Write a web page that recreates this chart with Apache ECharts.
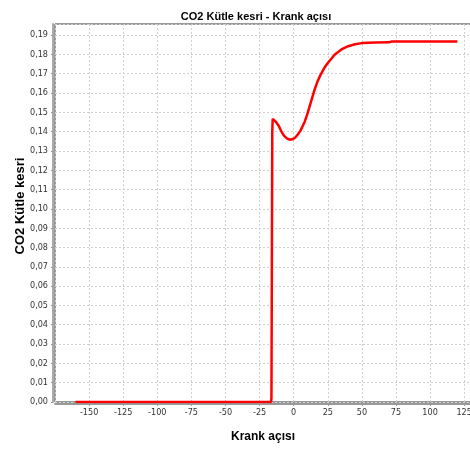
<!DOCTYPE html>
<html>
<head>
<meta charset="utf-8">
<script src="https://cdn.jsdelivr.net/npm/echarts@6/dist/echarts.min.js"></script>
<style>
  html, body { margin: 0; padding: 0; background: #fff; }
  #chart { width: 470px; height: 454px; }
</style>
</head>
<body>
<div id="chart"></div>
<script>
// Krank açısı (derece)
var krankAcisi = [-160, -16.6, -16.3, -16.0, -15.7, -15.4, -13, -11, -9, -7, -5, -3, -1, 1, 3, 5, 8, 10, 12.5, 15, 17.5, 20, 22.5, 25, 30, 35, 40, 45, 50, 55, 60, 70, 72, 80, 120];
// CO2 kütle kesri
var co2Kesri = [0, 0, 0.002, 0.07, 0.14, 0.1466, 0.1450, 0.1430, 0.1400, 0.1378, 0.1365, 0.1358, 0.1360, 0.1368, 0.1385, 0.1405, 0.1450, 0.1490, 0.1550, 0.1610, 0.1660, 0.1698, 0.1730, 0.1755, 0.1798, 0.1825, 0.1842, 0.1852, 0.1858, 0.1860, 0.1861, 0.1862, 0.1867, 0.1867, 0.1867];

var seriesData = [];
for (var i = 0; i < krankAcisi.length; i++) {
	seriesData.push([krankAcisi[i], co2Kesri[i]]);
}

var narrow = '"DejaVu Sans Condensed", sans-serif';
var bold = '"Liberation Sans", Arial, sans-serif';
var chart = echarts.init(document.getElementById('chart'));
chart.setOption({
	animation: false,
	backgroundColor: '#fff',
	title: {
		text: 'CO2 Kütle kesri - Krank açısı',
		left: 251,
		top: 6,
		textAlign: 'center',
		textStyle: { fontFamily: bold, fontSize: 11, fontWeight: 'bold', color: '#000' }
	},
	grid: {
		left: 55, right: -1, top: 24, bottom: 52,
		outerBoundsMode: 'none',
		containLabel: false,
		show: true, borderColor: '#333', borderWidth: 1, backgroundColor: '#fff'
	},
	xAxis: {
		type: 'value',
		min: -175, max: 130, interval: 25,
		offset: 2,
		name: 'Krank açısı',
		nameLocation: 'middle',
		nameGap: 27,
		nameMoveOverlap: false,
		nameTextStyle: { fontFamily: bold, fontSize: 12, fontWeight: 'bold', color: '#000' },
		axisLine: { show: true, onZero: false, lineStyle: { color: '#999', width: 2 } },
		axisTick: { show: true, length: 2, lineStyle: { color: '#999' } },
		axisLabel: {
			showMinLabel: false, showMaxLabel: false, margin: 4,
			fontFamily: narrow, fontSize: 9, color: '#333'
		},
		splitLine: { show: true, lineStyle: { color: '#d0d0d0', type: [2, 2] } }
	},
	yAxis: {
		type: 'value',
		min: 0, max: 0.1957, interval: 0.01,
		offset: 2,
		name: 'CO2 Kütle kesri',
		nameLocation: 'middle',
		nameRotate: 90,
		nameGap: 26,
		nameMoveOverlap: false,
		nameTextStyle: { fontFamily: bold, fontSize: 13, fontWeight: 'bold', color: '#000', padding: [0, 0, 0, 14] },
		axisLine: { show: true, onZero: false, lineStyle: { color: '#aaa', width: 2 } },
		axisTick: { show: true, length: 2, lineStyle: { color: '#999' } },
		axisLabel: {
			showMaxLabel: false, margin: 5,
			fontFamily: narrow, fontSize: 9, color: '#333',
			formatter: function (v) { return v.toFixed(2).replace('.', ','); }
		},
		splitLine: { show: true, lineStyle: { color: '#d0d0d0', type: [2, 2] } }
	},
	series: [{
		type: 'line',
		data: seriesData,
		showSymbol: false,
		smooth: false,
		lineStyle: { color: '#ff0000', width: 2.5 }
	}]
});
</script>
</body>
</html>
